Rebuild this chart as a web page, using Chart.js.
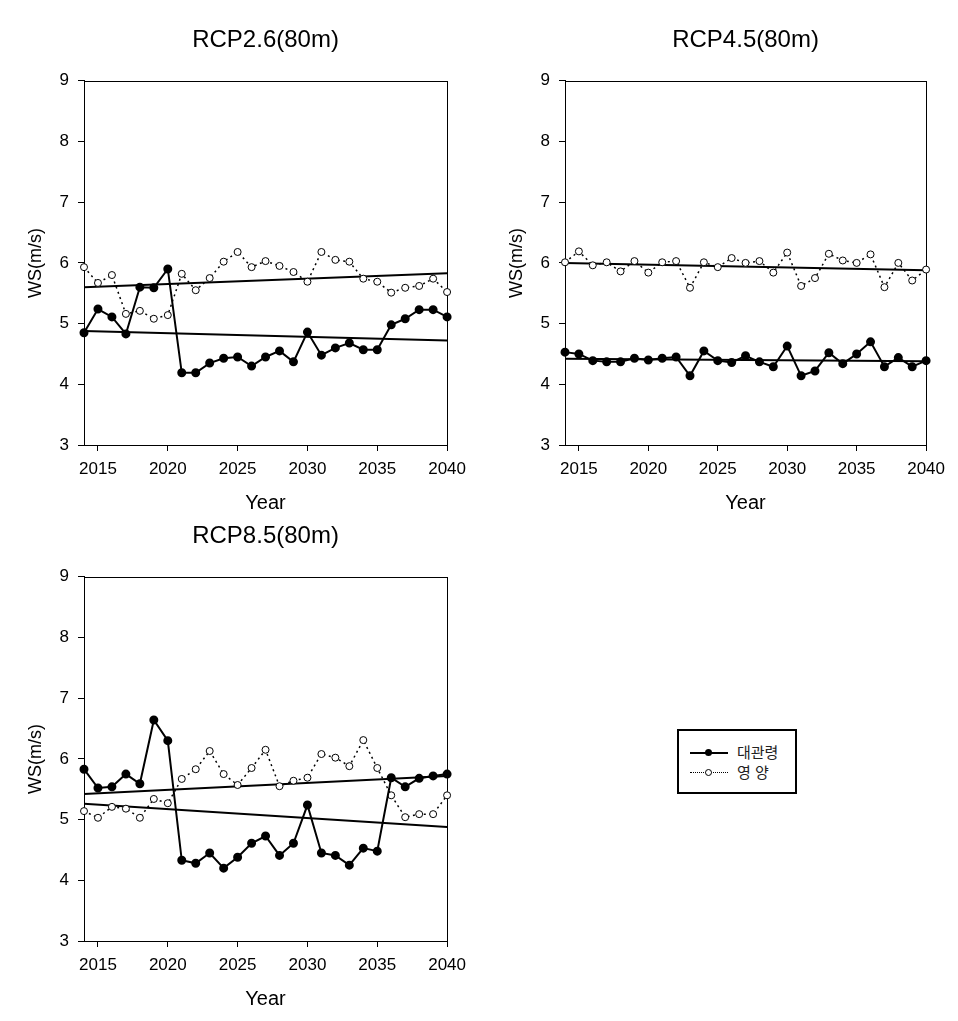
<!DOCTYPE html>
<html lang="ko">
<head>
  <meta charset="UTF-8" />
  <title>RCP 80m WS</title>
  <script src="https://cdn.jsdelivr.net/npm/chart.js"></script>
  <style>
    body { margin: 0; background: #fff; }
    .wrap { position: relative; width: 958px; height: 1021px; overflow: hidden; }
    canvas { position: absolute; }
    #c26 { left: 0; top: 0; }
    #c45 { left: 481px; top: 0; }
    #c85 { left: 0; top: 496px; }
    .legend {
      position: absolute; left: 677px; top: 729px; width: 116px; height: 61px;
      border: 2px solid #000; font-family: "Noto Sans CJK KR", sans-serif; font-size: 15px; color: #222;
    }
    .row { position: absolute; left: 0; height: 20px; width: 116px; }
    .row .ln { position: absolute; left: 11px; width: 38px; top: 10px; }
    .row .dot { position: absolute; left: 26px; top: 7px; width: 7px; height: 7px; border-radius: 50%; box-sizing: border-box; }
    .row .txt { position: absolute; left: 58px; top: 0; line-height: 20px; }
  </style>
</head>
<body>
  <div class="wrap">
    <canvas id="c26" width="474" height="520"></canvas>
    <canvas id="c45" width="472" height="520"></canvas>
    <canvas id="c85" width="474" height="520"></canvas>

    <div class="legend">
      <div class="row" style="top: 11px;">
        <div class="ln" style="border-top: 2px solid #000;"></div>
        <div class="dot" style="background: #000;"></div>
        <div class="txt">대관령</div>
      </div>
      <div class="row" style="top: 31px;">
        <div class="ln" style="border-top: 1px dotted #000;"></div>
        <div class="dot" style="background: #fff; border: 1px solid #000; top: 7px;"></div>
        <div class="txt">영 양</div>
      </div>
    </div>
  </div>

  <script>
    // 연도
    const years = [2014, 2015, 2016, 2017, 2018, 2019, 2020, 2021, 2022, 2023, 2024, 2025, 2026, 2027,
                   2028, 2029, 2030, 2031, 2032, 2033, 2034, 2035, 2036, 2037, 2038, 2039, 2040];
    const xTicks = [2015, 2020, 2025, 2030, 2035, 2040];
    const yTicks = [3, 4, 5, 6, 7, 8, 9];

    // RCP2.6
    const rcp26Daeg = [4.85, 5.24, 5.11, 4.83, 5.60, 5.59, 5.90, 4.19, 4.19, 4.35, 4.43, 4.45, 4.30, 4.45,
                       4.55, 4.37, 4.86, 4.48, 4.60, 4.68, 4.57, 4.57, 4.98, 5.08, 5.23, 5.23, 5.11];
    const rcp26Yy   = [5.93, 5.67, 5.80, 5.16, 5.21, 5.08, 5.14, 5.82, 5.55, 5.75, 6.02, 6.18, 5.93, 6.03,
                       5.95, 5.85, 5.69, 6.18, 6.05, 6.02, 5.74, 5.69, 5.51, 5.59, 5.62, 5.74, 5.52];
    const rcp26TrendDaeg = [4.88, 4.72];
    const rcp26TrendYy   = [5.60, 5.83];

    // RCP4.5
    const rcp45Daeg = [4.53, 4.50, 4.39, 4.37, 4.37, 4.43, 4.40, 4.43, 4.45, 4.14, 4.55, 4.39, 4.36, 4.47,
                       4.37, 4.29, 4.63, 4.14, 4.22, 4.52, 4.34, 4.50, 4.70, 4.29, 4.44, 4.29, 4.39];
    const rcp45Yy   = [6.01, 6.19, 5.96, 6.01, 5.86, 6.03, 5.84, 6.01, 6.03, 5.59, 6.01, 5.93, 6.08, 6.00,
                       6.03, 5.84, 6.17, 5.62, 5.75, 6.15, 6.04, 6.00, 6.14, 5.60, 6.00, 5.71, 5.89];
    const rcp45TrendDaeg = [4.42, 4.38];
    const rcp45TrendYy   = [6.00, 5.88];

    // RCP8.5
    const rcp85Daeg = [5.83, 5.52, 5.54, 5.75, 5.59, 6.64, 6.30, 4.33, 4.28, 4.45, 4.20, 4.38, 4.61, 4.73,
                       4.41, 4.61, 5.24, 4.45, 4.41, 4.25, 4.53, 4.48, 5.69, 5.54, 5.68, 5.72, 5.75];
    const rcp85Yy   = [5.14, 5.03, 5.21, 5.18, 5.03, 5.34, 5.27, 5.67, 5.83, 6.13, 5.75, 5.57, 5.85, 6.15,
                       5.55, 5.64, 5.69, 6.08, 6.02, 5.88, 6.31, 5.85, 5.40, 5.04, 5.09, 5.09, 5.40];
    const rcp85TrendDaeg = [5.26, 4.88];
    const rcp85TrendYy   = [5.42, 5.72];

    const FONT = '"Liberation Sans", Arial, sans-serif';
    Chart.defaults.color = '#000';
    Chart.defaults.font.family = FONT;

    const toXY = (vals) => vals.map((v, i) => ({ x: years[i], y: v }));
    const trendXY = (ends) => [{ x: years[0], y: ends[0] }, { x: years[years.length - 1], y: ends[1] }];

    // 플롯 영역 테두리
    const frame = {
      id: 'frame',
      beforeDatasetsDraw(chart) {
        const a = chart.chartArea, ctx = chart.ctx;
        ctx.save();
        ctx.strokeStyle = '#000';
        ctx.lineWidth = 1;
        ctx.strokeRect(Math.round(a.left) + 0.5, Math.round(a.top) + 0.5,
                       Math.round(a.right - a.left), Math.round(a.bottom - a.top));
        ctx.restore();
      }
    };

    function makeChart(id, title, daeg, yy, trendD, trendY) {
      return new Chart(document.getElementById(id), {
        type: 'line',
        data: {
          datasets: [
            { label: '대관령', data: toXY(daeg), borderColor: '#000', borderWidth: 2,
              pointRadius: 3.5, pointBackgroundColor: '#000', pointBorderColor: '#000', clip: false },
            { label: '영 양', data: toXY(yy), borderColor: '#000', borderWidth: 1.5, borderDash: [2, 3.5],
              pointRadius: 3.5, pointBackgroundColor: '#fff', pointBorderColor: '#000', pointBorderWidth: 1, clip: false },
            { label: 'trend1', data: trendXY(trendD), borderColor: '#000', borderWidth: 2, pointRadius: 0 },
            { label: 'trend2', data: trendXY(trendY), borderColor: '#000', borderWidth: 2, pointRadius: 0 }
          ]
        },
        options: {
          responsive: false,
          animation: false,
          layout: { padding: { left: 0, right: 23, top: 0, bottom: 0 } },
          scales: {
            x: {
              type: 'linear', min: 2014, max: 2040,
              afterBuildTicks: (s) => { s.ticks = xTicks.map(v => ({ value: v })); },
              afterFit: (s) => { s.height = 75; },
              ticks: { font: { size: 17 }, padding: 8, maxRotation: 0, callback: (v) => String(v) },
              grid: { drawOnChartArea: false, drawTicks: true, tickLength: 6, color: '#000' },
              border: { display: true, color: '#000', width: 1 },
              title: { display: true, text: 'Year', font: { size: 20 }, padding: { top: 0, bottom: 5 } }
            },
            y: {
              min: 3, max: 9,
              afterBuildTicks: (s) => { s.ticks = yTicks.map(v => ({ value: v })); },
              afterFit: (s) => { s.width = 84; },
              ticks: { font: { size: 17 }, padding: 9 },
              grid: { drawOnChartArea: false, drawTicks: true, tickLength: 6, color: '#000' },
              border: { display: true, color: '#000', width: 1 },
              title: { display: true, text: 'WS(m/s)', font: { size: 18 }, padding: { top: 25, bottom: 0 } }
            }
          },
          plugins: {
            legend: { display: false },
            tooltip: { enabled: false },
            title: { display: true, text: title, fullSize: false, font: { size: 24, weight: 'normal' },
                     color: '#000', padding: { top: 26, bottom: 26 } }
          }
        },
        plugins: [frame]
      });
    }

    makeChart('c26', 'RCP2.6(80m)', rcp26Daeg, rcp26Yy, rcp26TrendDaeg, rcp26TrendYy);
    makeChart('c45', 'RCP4.5(80m)', rcp45Daeg, rcp45Yy, rcp45TrendDaeg, rcp45TrendYy);
    makeChart('c85', 'RCP8.5(80m)', rcp85Daeg, rcp85Yy, rcp85TrendDaeg, rcp85TrendYy);
  </script>
</body>
</html>
